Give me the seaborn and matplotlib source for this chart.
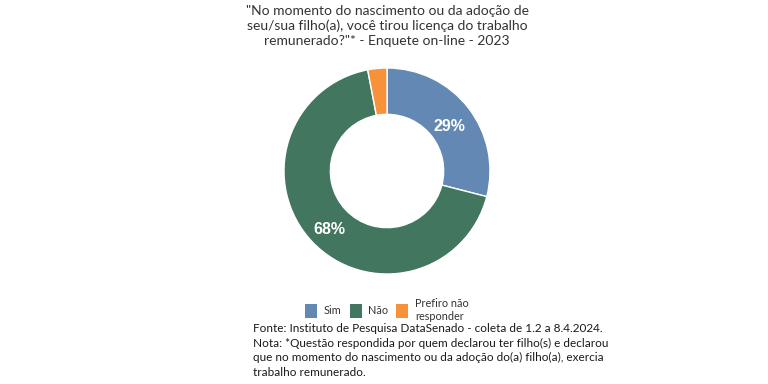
import matplotlib
matplotlib.use("Agg")
import matplotlib.pyplot as plt
import matplotlib.transforms as mtransforms
import seaborn as sns
from matplotlib.patches import Patch

sns.set_theme(style="white")
plt.rcParams['font.family'] = ['Lato', 'DejaVu Sans']

categories = ["Sim", "Não", "Prefiro não\nresponder"]
values = [29, 68, 3]
colors = ["#6488B4", "#43765F", "#F7913A"]
title = "\"No momento do nascimento ou da adoção de\nseu/sua filho(a), você tirou licença do trabalho\nremunerado?\"* - Enquete on-line - 2023"
footer = ("Fonte: Instituto de Pesquisa DataSenado - coleta de 1.2 a 8.4.2024.\n"
          "Nota: *Questão respondida por quem declarou ter filho(s) e declarou\n"
          "que no momento do nascimento ou da adoção do(a) filho(a), exercia\n"
          "trabalho remunerado.")

W, H = 768, 384
fig = plt.figure(figsize=(W/100, H/100), dpi=100)
fig.patch.set_facecolor("white")

cx, cy, r = 387, 171, 103
ax = fig.add_axes([(cx - r)/W, 1 - (cy + r)/H, 2*r/W, 2*r/H])
wedges, texts, autotexts = ax.pie(
    values, colors=colors, startangle=90, counterclock=False,
    autopct=lambda p: f"{p:.0f}%" if p > 5 else "",
    pctdistance=0.77,
    wedgeprops=dict(width=0.45, edgecolor="white", linewidth=1),
    textprops=dict(color="white", fontsize=11.5, fontweight="bold", family=["Liberation Sans", "DejaVu Sans"]))
for t in autotexts:
    t.set_transform(mtransforms.offset_copy(t.get_transform(), fig=fig, x=0, y=-4, units="dots"))
ax.set_xlim(-1, 1)
ax.set_ylim(-1, 1)
ax.set_aspect("equal")
ax.axis("off")

fig.text(cx/W, 1 - 5/H, title, ha="center", va="top", fontsize=10.0,
         color="#333333", linespacing=1.26)

handles = [Patch(facecolor=c, edgecolor="none") for c in colors]
fig.legend(handles, categories, loc="center", bbox_to_anchor=(387/W, 1 - 310/H),
           ncol=3, frameon=False, fontsize=7.8, handlelength=1.1, handleheight=1.5,
           handletextpad=0.6, columnspacing=0.75, labelcolor="#333333")

fig.text(253/W, 1 - 323/H, footer, ha="left", va="top", fontsize=8.45,
         color="#1a1a1a", linespacing=1.4)

fig.savefig("out.png", dpi=100, facecolor="white")
